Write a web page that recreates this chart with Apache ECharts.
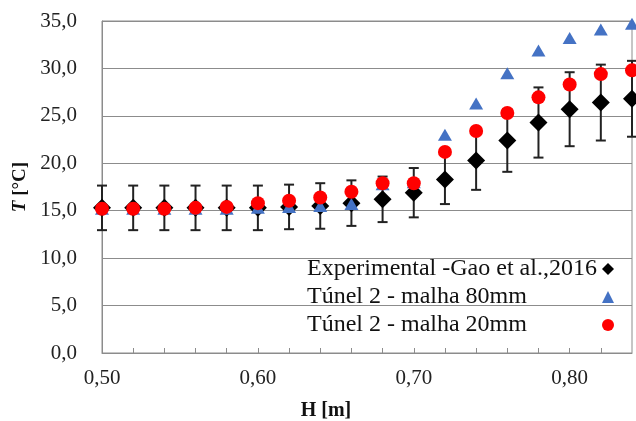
<!DOCTYPE html>
<html>
<head>
<meta charset="utf-8">
<script src="https://cdn.jsdelivr.net/npm/echarts@6/dist/echarts.min.js"></script>
<style>html,body{margin:0;padding:0;background:#fff;}#c{width:636px;height:421px;}</style>
</head>
<body>
<div id="c"></div>
<script>
var H = [0.50,0.52,0.54,0.56,0.58,0.60,0.62,0.64,0.66,0.68,0.70,0.72,0.74,0.76,0.78,0.80,0.82,0.84];
var expT = [15.3,15.3,15.3,15.3,15.3,15.3,15.4,15.5,15.8,16.2,16.9,18.3,20.3,22.4,24.3,25.7,26.4,26.8];
var expErr = [2.35,2.35,2.35,2.35,2.35,2.35,2.35,2.4,2.4,2.4,2.6,2.6,3.1,3.3,3.7,3.9,4.0,4.0];
var m80T = [15.2,15.2,15.2,15.2,15.2,15.3,15.4,15.5,15.7,17.8,18.0,23.0,26.3,29.5,31.9,33.2,34.1,34.7];
var m20T = [15.2,15.2,15.2,15.3,15.4,15.8,16.05,16.4,17.0,17.9,17.9,21.2,23.4,25.3,26.95,28.3,29.4,29.8];
var yTicks = [0,5,10,15,20,25,30,35];
var xLabels = [0.50,0.60,0.70,0.80];
var names = ['Experimental -Gao et al.,2016','Túnel 2 - malha 80mm','Túnel 2 - malha 20mm'];

function pairs(a){ return H.map(function(h,i){ return [h,a[i]]; }); }
var errData = H.map(function(h,i){ return [h, expT[i]-expErr[i], expT[i]+expErr[i]]; });

var chart = echarts.init(document.getElementById('c'));
var font = 'Liberation Serif, Times New Roman, serif';
chart.setOption({
  animation:false,
  grid:{left:102,right:4,top:21,bottom:68,show:true,borderColor:'#8c8c8c',borderWidth:1,
    containLabel:false,outerBoundsMode:'none'},
  xAxis:{type:'value',min:0.5,max:0.84,interval:0.02,
    name:'H [m]',nameLocation:'middle',nameGap:48,
    nameTextStyle:{fontFamily:font,fontWeight:'bold',fontSize:20,color:'#111',padding:[0,82,0,0]},
    axisLine:{lineStyle:{color:'#8c8c8c',width:1}},
    axisTick:{inside:true,length:5,lineStyle:{color:'#8c8c8c'}},
    splitLine:{show:false},
    axisLabel:{fontFamily:font,fontSize:21,color:'#222',margin:15,showMaxLabel:false,
      formatter:function(v){
        for (var k=0;k<xLabels.length;k++){ if (Math.abs(v-xLabels[k])<1e-6) return xLabels[k].toFixed(2).replace('.',','); }
        return '';
      }}
  },
  yAxis:{type:'value',min:0,max:35,interval:5,
    name:'{i|T} [°C]',nameLocation:'middle',nameGap:70,
    nameTextStyle:{fontFamily:font,fontSize:19,color:'#111',fontWeight:'bold',
      rich:{i:{fontFamily:font,fontSize:19,fontStyle:'italic',fontWeight:'bold',color:'#111'}}},
    axisLine:{show:true,lineStyle:{color:'#8c8c8c',width:1}},
    axisTick:{show:false},
    splitLine:{lineStyle:{color:'#8c8c8c',width:1}},
    axisLabel:{fontFamily:font,fontSize:21,color:'#222',margin:25,
      formatter:function(v){ return v.toFixed(1).replace('.',','); }}
  },
  legend:{orient:'vertical',right:17,top:252,align:'right',itemGap:4,itemWidth:12,itemHeight:12,
    formatter:function(n){ return '{a|' + n + '}'; },
    textStyle:{fontFamily:font,fontSize:24,color:'#111',
      rich:{a:{fontFamily:font,fontSize:24,color:'#111',width:290,align:'left'}}},
    data:[{name:names[0],icon:'diamond'},{name:names[1],icon:'triangle'},{name:names[2],icon:'circle'}]
  },
  series:[
    {type:'custom',name:'err',silent:true,z:1,
      renderItem:function(params,api){
        var x=api.value(0);
        var lo=api.coord([x,api.value(1)]);
        var hi=api.coord([x,api.value(2)]);
        var hw=5;
        var st={stroke:'#222',lineWidth:2};
        return {type:'group',children:[
          {type:'line',shape:{x1:lo[0],y1:lo[1],x2:hi[0],y2:hi[1]},style:st},
          {type:'line',shape:{x1:lo[0]-hw,y1:lo[1],x2:lo[0]+hw,y2:lo[1]},style:st},
          {type:'line',shape:{x1:hi[0]-hw,y1:hi[1],x2:hi[0]+hw,y2:hi[1]},style:st}
        ]};
      },
      encode:{x:0,y:[1,2]},
      data:errData
    },
    {type:'scatter',name:names[0],symbol:'diamond',symbolSize:[18,18],z:2,clip:false,
      itemStyle:{color:'#000',opacity:1},data:pairs(expT)},
    {type:'scatter',name:names[1],symbol:'triangle',symbolSize:[14,12],z:3,clip:false,
      itemStyle:{color:'#4472c4',opacity:1},data:pairs(m80T)},
    {type:'scatter',name:names[2],symbol:'circle',symbolSize:14,z:4,clip:false,
      itemStyle:{color:'#ff0000',opacity:1},data:pairs(m20T)}
  ]
});
</script>
</body>
</html>
